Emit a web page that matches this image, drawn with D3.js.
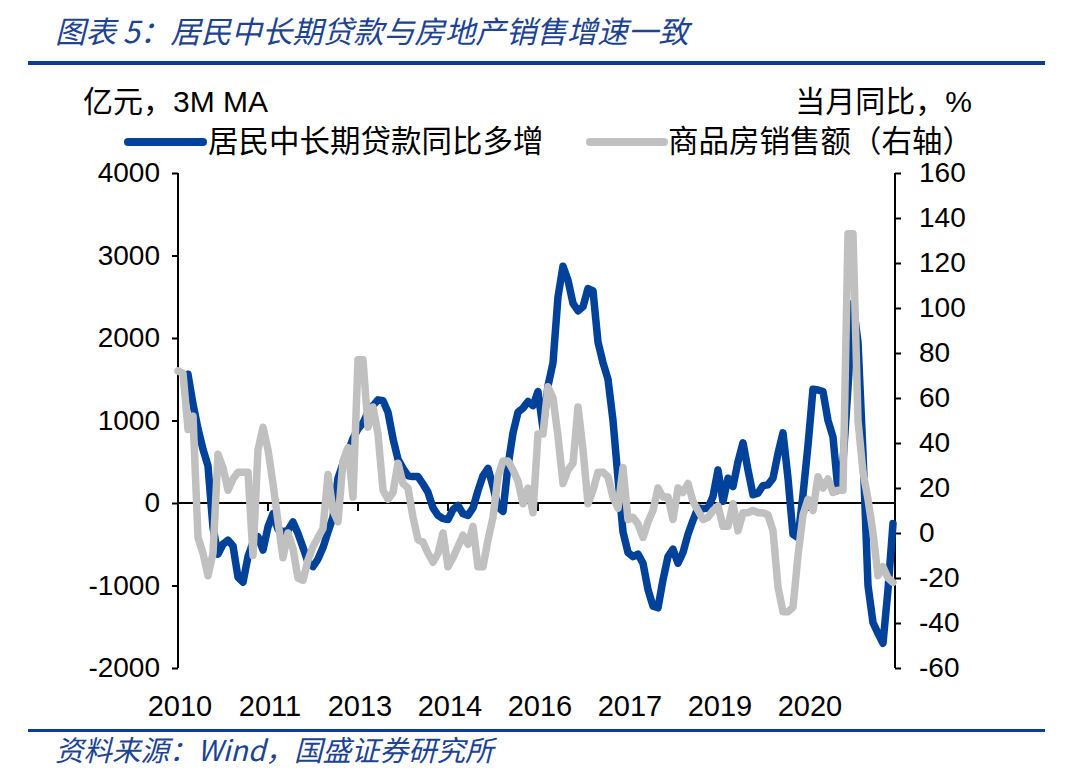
<!DOCTYPE html>
<html><head><meta charset="utf-8">
<script src="https://cdn.jsdelivr.net/npm/d3@7/dist/d3.min.js"></script>
<style>
body{margin:0;background:#fff;}
svg{display:block;}
text{font-family:"Liberation Sans","Noto Sans CJK SC",Arial,sans-serif;}
</style></head>
<body><svg id="c" width="1073" height="784"></svg>
<script>
// Monthly data, 2010-01 .. 2021-12
const startMonth = "2010-01";
const loanYoY = [null,null,1560,1200,900,650,450,-300,-620,-500,-450,-520,-900,-960,-650,-480,-410,-570,-290,-130,-320,-350,-330,-230,-370,-540,-720,-770,-680,-540,-350,-170,300,480,620,780,900,970,1100,1180,1250,1240,1100,780,530,420,330,320,320,230,130,-60,-150,-190,-200,-80,-30,-130,-150,-60,150,330,420,200,-50,-100,450,850,1100,1150,1230,1180,1350,900,1420,1700,2500,2870,2700,2420,2330,2380,2600,2570,1950,1700,1500,1000,300,-350,-600,-650,-620,-730,-1050,-1250,-1270,-930,-650,-560,-730,-600,-380,-210,-60,-70,-60,80,400,20,300,200,500,730,400,100,120,210,220,300,600,850,300,-380,-420,100,700,1380,1370,1350,1000,800,150,500,1400,2420,1950,600,-1000,-1450,-1580,-1700,-1050,-250];
const salesYoY = [72,71,46,52,-2,-9,-19,-9,35,29,19,24,27,27,27,-10,37,47,37,22,5,-11,0,-7,-20,-21,-12,-6,-2,2,26,10,5,32,38,16,77,77,47,56,44,19,15,18,31,22,20,7,-3,-4,-9,-13,-9,0,-15,-11,-6,-1,-5,3,-15,-15,-3,7,25,32,32,28,23,13,20,9,44,44,65,60,43,22,28,31,56,37,13,19,27,27,25,16,11,29,6,7,4,-2,5,10,20,16,16,6,20,18,22,14,10,6,7,10,12,3,3,13,1,9,9,10,9,9,8,1,-24,-35,-35,-33,-10,8,15,10,25,20,24,18,19,19,133,133,50,27,15,0,-19,-15,-20,-22];
const xTickLabels = ["2010","2011","2013","2014","2016","2017","2019","2020"];
const xTickEvery = 18; // months between labelled ticks
const leftTicks = [-2000,-1000,0,1000,2000,3000,4000];
const rightTicks = [-60,-40,-20,0,20,40,60,80,100,120,140,160];
const seriesNames = ["居民中长期贷款同比多增","商品房销售额（右轴）"];
const titleText = "图表 5：居民中长期贷款与房地产销售增速一致";
const sourceText = "资料来源：Wind，国盛证券研究所";
const leftUnit = "亿元，3M MA";
const rightUnit = "当月同比，%";

const BLUE = "#00419a", GRAY = "#c0c0c0", DARKBLUE = "#0b3d91";
const svg = d3.select("#c");
const L = 178, R = 895, T = 173, B = 668;
const fmt = d => String(d); // plain hyphen minus

const x = d3.scaleLinear().domain([0, 143]).range([L, 893]);
const yL = d3.scaleLinear().domain([-2000, 4000]).range([B, T]);
const yR = d3.scaleLinear().domain([-60, 160]).range([B, T]);

// Title
svg.append("text").attr("x", 55).attr("y", 43).attr("fill", "#1d4392")
  .style("font-size", "30.5px").style("font-style", "italic")
  .style("font-family", "'Noto Sans CJK SC','Liberation Sans',sans-serif")
  .text(titleText);
svg.append("rect").attr("x", 28).attr("y", 61).attr("width", 1017).attr("height", 4).attr("fill", DARKBLUE);
svg.append("rect").attr("x", 28).attr("y", 729).attr("width", 1017).attr("height", 3).attr("fill", DARKBLUE);
svg.append("text").attr("x", 55).attr("y", 761).attr("fill", "#1d4392")
  .style("font-size", "28.5px").style("font-style", "italic")
  .style("font-family", "'Noto Sans CJK SC','Liberation Sans',sans-serif")
  .text(sourceText);

// Units
svg.append("text").attr("x", 83).attr("y", 112).style("font-size", "30px").text(leftUnit);
svg.append("text").attr("x", 972).attr("y", 112).attr("text-anchor", "end").style("font-size", "30px").text(rightUnit);

// Legend
const lg = [{x1:128,x2:203,c:BLUE,tx:208,t:seriesNames[0]},{x1:590,x2:664,c:GRAY,tx:668,t:seriesNames[1]}];
lg.forEach(d => {
  svg.append("line").attr("x1", d.x1).attr("x2", d.x2).attr("y1", 142).attr("y2", 142)
    .attr("stroke", d.c).attr("stroke-width", 8).attr("stroke-linecap", "round");
  svg.append("text").attr("x", d.tx).attr("y", 152).style("font-size", "30.5px").text(d.t);
});

// Axes
const axL = svg.append("g").attr("transform", `translate(${L},0)`)
  .call(d3.axisLeft(yL).tickValues(leftTicks).tickSize(6).tickPadding(12).tickFormat(fmt));
const axR = svg.append("g").attr("transform", `translate(${R},0)`)
  .call(d3.axisRight(yR).tickValues(rightTicks).tickSize(6).tickPadding(18).tickFormat(fmt));
[axL, axR].forEach(a => {
  a.selectAll(".tick line").attr("stroke", "#000").attr("stroke-width", 2);
  a.selectAll(".tick text").style("font-size", "28px").attr("fill", "#000")
    .style("font-family", "'Liberation Sans',Arial,sans-serif");
  a.select(".domain").remove();
});
svg.append("line").attr("x1", L).attr("x2", L).attr("y1", T).attr("y2", B).attr("stroke", "#000").attr("stroke-width", 2);
svg.append("line").attr("x1", R).attr("x2", R).attr("y1", T).attr("y2", B).attr("stroke", "#000").attr("stroke-width", 2);

// Zero line with month ticks
const y0 = yL(0);
svg.append("line").attr("x1", L).attr("x2", R).attr("y1", y0).attr("y2", y0).attr("stroke", "#000").attr("stroke-width", 2);
xTickLabels.forEach((lab, k) => {
  const xp = x(k * xTickEvery);
  if (k > 0) svg.append("line").attr("x1", xp).attr("x2", xp).attr("y1", y0).attr("y2", y0 + 8)
    .attr("stroke", "#000").attr("stroke-width", 2);
  svg.append("text").attr("x", xp + 2).attr("y", 716).attr("text-anchor", "middle")
    .style("font-size", "29px").style("font-family", "'Liberation Sans',Arial,sans-serif").text(lab);
});

// Lines
const lineL = d3.line().defined(d => d != null).x((d, i) => x(i)).y(d => yL(d));
const lineR = d3.line().defined(d => d != null).x((d, i) => x(i)).y(d => yR(d));
svg.append("path").datum(loanYoY).attr("d", lineL).attr("fill", "none")
  .attr("stroke", BLUE).attr("stroke-width", 7.5).attr("stroke-linejoin", "round").attr("stroke-linecap", "round");
svg.append("path").datum(salesYoY).attr("d", lineR).attr("fill", "none")
  .attr("stroke", GRAY).attr("stroke-width", 7.5).attr("stroke-linejoin", "round").attr("stroke-linecap", "round");
</script></body></html>
